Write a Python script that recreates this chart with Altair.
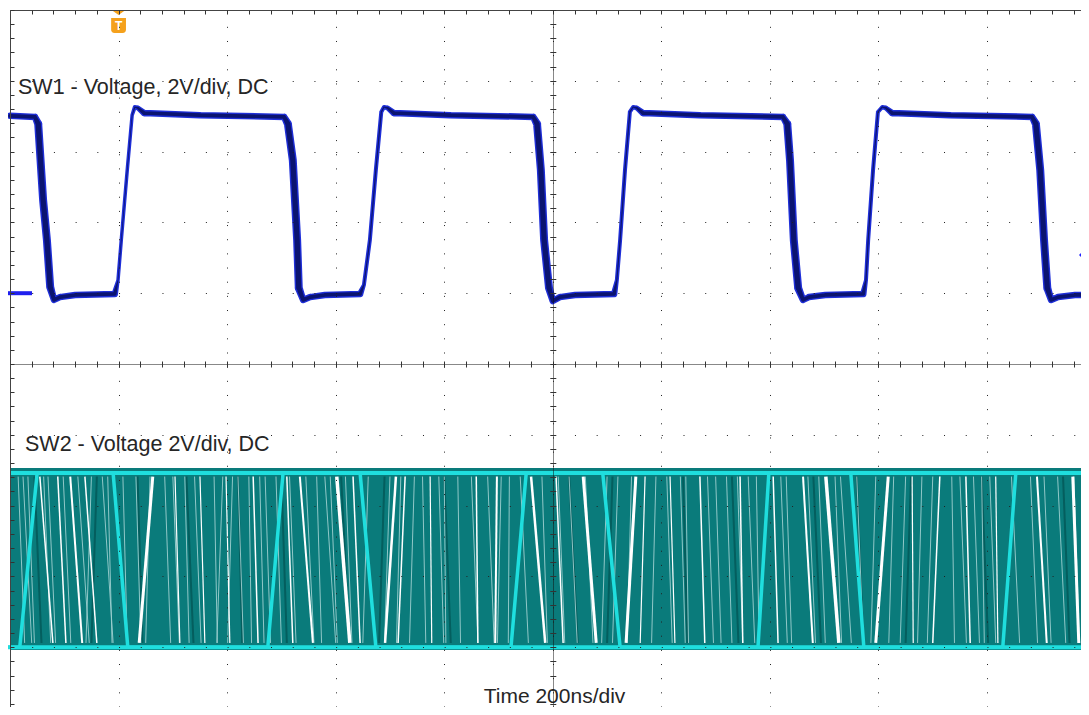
import altair as alt
import pandas as pd

# ---------------- screen geometry (scope: 200 ns/div, 2 V/div) ----------------
PX_PER_DIV_X = 108.56
PX_PER_DIV_Y = 70.8
W, H = 1071, 697
T_VIEW = W / PX_PER_DIV_X * 200      # ns visible
D_TOP = 5.0
D_BOT = D_TOP - H / PX_PER_DIV_Y     # visible vertical span, in divisions from centre
V_PER_DIV = 2.0
SW1_GND_DIV = 1.0                    # SW1 ground marker (div above centre)
SW2_GND_DIV = -4.0                   # SW2 ground marker

# ---------------- SW1 trace (time ns, volts, displayed trace width px) ----------------
sw1_t = [0, 46, 52, 61, 68, 74, 81, 92, 120,
         193, 199, 205, 216, 225, 230, 236, 247, 350,
         505, 512, 521, 529, 532, 540, 553, 580,
         645, 652, 663, 674, 684, 689, 696, 707, 811,
         964, 971, 978, 984, 993, 1000, 1013, 1041,
         1113, 1118, 1124, 1133, 1142, 1148, 1155, 1166, 1271,
         1424, 1432, 1437, 1444, 1452, 1461, 1472, 1502,
         1572, 1577, 1581, 1590, 1599, 1607, 1614, 1625, 1732,
         1883, 1890, 1898, 1905, 1911, 1918, 1931, 1962, 1988]
sw1_v = [5.01, 4.98, 4.78, 2.63, 1.50, 0.18, -0.19, -0.11, -0.05,
         -0.02, 0.37, 1.50, 3.48, 5.03, 5.26, 5.23, 5.09, 5.03,
         4.98, 4.78, 3.76, 1.50, 0.15, -0.19, -0.11, -0.05,
         -0.02, 0.23, 1.50, 3.48, 5.12, 5.26, 5.23, 5.09, 5.03,
         4.98, 4.78, 3.48, 1.50, 0.15, -0.22, -0.11, -0.05,
         -0.02, 0.37, 1.50, 3.48, 5.12, 5.26, 5.23, 5.09, 5.03,
         4.98, 4.78, 3.76, 1.50, 0.15, -0.19, -0.11, -0.05,
         -0.02, 0.37, 1.50, 3.48, 5.12, 5.26, 5.23, 5.09, 5.03,
         4.98, 4.78, 3.48, 1.50, 0.15, -0.19, -0.11, -0.05, -0.05]
sw1_w = [5.5, 5.5, 7, 7, 7, 7, 5.5, 5.5, 5.5,
         5.5, 2.5, 2.5, 2.5, 2.5, 3, 4, 5.5, 5.5,
         5.5, 7, 7, 7, 7, 5.5, 5.5, 5.5,
         5.5, 3, 3, 3, 3, 3, 4, 5.5, 5.5,
         5.5, 7, 7, 7, 7, 5.5, 5.5, 5.5,
         5.5, 3, 3, 3, 3, 3, 4, 5.5, 5.5,
         5.5, 7, 7, 7, 7, 5.5, 5.5, 5.5,
         5.5, 3, 3, 3, 3, 3, 4, 5.5, 5.5,
         5.5, 7, 7, 7, 7, 5.5, 5.5, 5.5, 5.5]

# ---------------- SW2: last acquisition (bright) ----------------
sw2_t = [-9, 18, 50, 190, 217, 475, 503, 645, 674, 923, 951, 1092,
         1124, 1378, 1398, 1549, 1573, 1829, 1853, 1988]
sw2_v = [0, 0, 4.92, 4.92, 0, 0, 4.92, 4.92, 0, 0, 4.92, 4.92,
         0, 0, 4.92, 4.92, 0, 0, 4.92, 4.92]
sw2_high_v, sw2_low_v = 4.92, 0.0
band_top_v, band_bot_v = 5.06, -0.08        # persistence band extent

# gaps in the persistence band (time at top, time at bottom, width px)
gap_top = [55, 88, 111, 138, 263, 304, 350, 398, 448, 510, 534, 602, 632,
           711, 728, 774, 859, 897, 960, 1006, 1056, 1153, 1170, 1216, 1271,
           1345, 1406, 1461, 1503, 1618, 1662, 1713, 1761, 1816, 1892, 1958]
gap_bot = [79, 103, 133, 160, 238, 313, 359, 405, 457, 521, 558, 626, 645,
           691, 715, 777, 862, 894, 986, 1019, 1080, 1135, 1161, 1225, 1280,
           1350, 1415, 1479, 1527, 1595, 1664, 1700, 1769, 1820, 1910, 1969]
gap_w = [1.5, 1.5, 2, 1.5, 3, 1.2, 1.2, 1.2, 1.5, 1.5, 2, 3.5, 1.5,
         2.5, 1.5, 1.2, 1.5, 2, 2.5, 1.5, 3, 3, 1.2, 1.2, 1.5,
         1.5, 1.5, 2, 3.5, 3, 1.2, 1.5, 1.5, 1.2, 2, 3]
faint_top = [24, 70, 125, 170, 285, 322, 376, 420, 470, 490, 580, 660, 745, 800, 825,
             920, 940, 1030, 1100, 1190, 1245, 1300, 1320, 1375, 1430, 1530, 1560,
             1650, 1680, 1735, 1790, 1845, 1930,
             15, 33, 62, 98, 150, 180, 208, 232, 258, 300, 340, 392, 410, 440, 460,
             515, 545, 565, 590, 618, 700, 720, 760, 790, 850, 880, 905, 980, 1010,
             1060, 1120, 1145, 1210, 1235, 1285, 1340, 1360, 1420, 1470, 1490, 1520,
             1595, 1628, 1700, 1750, 1775, 1805, 1880, 1905, 1960]
faint_bot = [40, 84, 146, 190, 296, 330, 382, 430, 480, 500, 600, 650, 736, 803, 830,
             918, 955, 1045, 1090, 1182, 1250, 1310, 1330, 1380, 1440, 1550, 1572,
             1640, 1672, 1740, 1795, 1860, 1945,
             27, 45, 75, 112, 140, 188, 216, 241, 250, 312, 352, 381, 401, 445, 468,
             527, 560, 574, 603, 630, 690, 712, 766, 799, 862, 892, 898, 990, 1022,
             1074, 1110, 1137, 1220, 1244, 1296, 1350, 1372, 1432, 1484, 1502, 1532,
             1586, 1619, 1690, 1762, 1786, 1816, 1893, 1918, 1970]
dark_top = [45, 160, 235, 325, 420, 500, 610, 690, 800, 1030, 1110, 1240, 1330,
            1480, 1560, 1660, 1790, 1940]
dark_bot = [58, 150, 244, 338, 428, 510, 625, 680, 812, 1046, 1100, 1248, 1342,
            1494, 1572, 1650, 1802, 1952]

trig_t = 200.0         # trigger position (ns)
trig_level_v = 1.08    # trigger level on SW1

SW1_LABEL = "SW1 - Voltage, 2V/div, DC"
SW2_LABEL = "SW2 - Voltage 2V/div, DC"
TIME_LABEL = "Time 200ns/div"

# grid values
major_x = [200 * i for i in range(1, 10)]
minor_x = [40 * i for i in range(0, 50)]
major_y = [-4, -3, -2, -1, 1, 2, 3, 4]
minor_y = [round(-4.8 + 0.2 * i, 2) for i in range(50)]

# ---------------- scales ----------------
xs = alt.Scale(domain=[0, T_VIEW], nice=False, zero=False)
ys = alt.Scale(domain=[D_BOT, D_TOP], nice=False, zero=False)


def X(f):
    return alt.X(f, type="quantitative", scale=xs, axis=None)


def Y(f):
    return alt.Y(f, type="quantitative", scale=ys, axis=None)


anchor = pd.DataFrame({"t": [T_VIEW / 2], "d": [0.0]})

# ---------------- SW2 persistence ----------------
band_df = pd.DataFrame({"t1": [0.0], "t2": [T_VIEW],
                        "v1": [band_top_v], "v2": [band_bot_v]})
band = alt.Chart(band_df).transform_calculate(
    d1=f"{SW2_GND_DIV} + datum.v1 / {V_PER_DIV}",
    d2=f"{SW2_GND_DIV} + datum.v2 / {V_PER_DIV}",
).mark_rect(color="#0a7b7b", clip=True).encode(x=X("t1"), x2="t2", y=Y("d1"), y2="d2")

streak_calc = dict(
    d1=f"{SW2_GND_DIV} + {sw2_high_v - 0.1} / {V_PER_DIV}",
    d2=f"{SW2_GND_DIV} + {sw2_low_v + 0.12} / {V_PER_DIV}",
)

dark_df = pd.DataFrame({"t1": dark_top, "t2": dark_bot})
dark = alt.Chart(dark_df).transform_calculate(**streak_calc).mark_rule(
    color="#045e5e", strokeWidth=2, clip=True).encode(x=X("t1"), x2="t2", y=Y("d1"), y2="d2")

faint_df = pd.DataFrame({"t1": faint_top, "t2": faint_bot})
faint = alt.Chart(faint_df).transform_calculate(**streak_calc).mark_rule(
    color="#9fd0d0", strokeWidth=0.9, clip=True).encode(x=X("t1"), x2="t2", y=Y("d1"), y2="d2")

gaps_df = pd.DataFrame({"t1": gap_top, "t2": gap_bot, "w": gap_w})
gaps = alt.Chart(gaps_df).transform_calculate(**streak_calc).mark_rule(
    color="white", clip=True).encode(
    x=X("t1"), x2="t2", y=Y("d1"), y2="d2",
    size=alt.Size("w:Q", scale=None, legend=None))

lvl_df = pd.DataFrame({"t": [0.0, T_VIEW, -9.0, T_VIEW],
                       "v": [sw2_high_v, sw2_high_v, sw2_low_v, sw2_low_v],
                       "k": ["hi", "hi", "lo", "lo"]})
levels = alt.Chart(lvl_df).transform_calculate(
    d=f"{SW2_GND_DIV} + datum.v / {V_PER_DIV}"
).mark_line(color="#1fdede", strokeWidth=4).encode(x=X("t"), y=Y("d"), detail="k:N")

sw2_df = pd.DataFrame({"t": sw2_t, "v": sw2_v})
sw2 = alt.Chart(sw2_df).transform_calculate(
    d=f"{SW2_GND_DIV} + datum.v / {V_PER_DIV}"
).mark_line(color="#1fdede", strokeWidth=3.5, strokeJoin="round").encode(
    x=X("t"), y=Y("d"), order="t:Q")

# ---------------- SW1 ----------------
sw1_df = pd.DataFrame({"t": sw1_t, "v": sw1_v, "w": sw1_w})
sw1_base = alt.Chart(sw1_df).transform_calculate(
    d=f"{SW1_GND_DIV} + datum.v / {V_PER_DIV}",
    wo="datum.w + 1.0",
    wi="max(datum.w - 1.8, 0.5)",
)
sw1_outer = sw1_base.mark_trail(color="#1f2fd8").encode(
    x=X("t"), y=Y("d"), size=alt.Size("wo:Q", scale=None, legend=None))
sw1_inner = sw1_base.mark_trail(color="#0b1470").encode(
    x=X("t"), y=Y("d"), size=alt.Size("wi:Q", scale=None, legend=None))

# ---------------- graticule through axes ----------------
def xaxis(axis):
    return alt.Chart(anchor).mark_point(opacity=0).encode(
        x=alt.X("t:Q", scale=xs, axis=axis), y=alt.Y("d:Q", scale=ys, axis=None))


def yaxis(axis):
    return alt.Chart(anchor).mark_point(opacity=0).encode(
        y=alt.Y("d:Q", scale=ys, axis=axis), x=alt.X("t:Q", scale=xs, axis=None))


common = dict(labels=False, title=None, zindex=1)
ax_major_x = xaxis(alt.Axis(orient="top", values=major_x, grid=True, gridDash=[1, 13.16],
                            gridColor="#222222", gridOpacity=1, gridWidth=1,
                            domain=True, domainColor="#444444", domainWidth=1,
                            ticks=False, **common))
ax_minor_x = xaxis(alt.Axis(orient="top", values=minor_x, offset=-4, ticks=True, tickSize=4,
                            tickColor="#333333", domain=False, grid=False, **common))
ax_centre_x = xaxis(alt.Axis(orient="top", values=[1000], grid=True, gridDash=[1, 1],
                             gridColor="#111111", gridOpacity=1, domain=False, ticks=False,
                             **common))
ax_ctick_x = xaxis(alt.Axis(orient="top", values=minor_x, offset=-357, ticks=True, tickSize=6,
                            tickColor="#333333", domain=False, grid=False, **common))

ax_major_y = yaxis(alt.Axis(orient="left", values=major_y, grid=True, gridDash=[1, 20.71],
                            gridColor="#222222", gridOpacity=1, gridWidth=1,
                            domain=True, domainColor="#444444", domainWidth=1,
                            ticks=False, **common))
ax_minor_y = yaxis(alt.Axis(orient="left", values=minor_y, offset=-4, ticks=True, tickSize=4,
                            tickColor="#333333", domain=False, grid=False, **common))
ax_centre_y = yaxis(alt.Axis(orient="left", values=[0], grid=True, gridDash=[1, 1],
                             gridColor="#111111", gridOpacity=1, domain=False, ticks=False,
                             **common))
ax_ctick_y = yaxis(alt.Axis(orient="left", values=minor_y, offset=-545.8, ticks=True, tickSize=6,
                            tickColor="#333333", domain=False, grid=False, **common))

# ---------------- annotations ----------------
txt_style = dict(font="Liberation Sans", color="#262626", baseline="alphabetic")
t_sw1 = alt.Chart(anchor).mark_text(align="left", fontSize=21.5, **txt_style).encode(
    x=alt.value(8), y=alt.value(84), text=alt.value(SW1_LABEL))
t_sw2 = alt.Chart(anchor).mark_text(align="left", fontSize=21.5, **txt_style).encode(
    x=alt.value(15), y=alt.value(441), text=alt.value(SW2_LABEL))
t_time = alt.Chart(anchor).mark_text(align="center", fontSize=21, **txt_style).encode(
    x=alt.value(544.5), y=alt.value(693), text=alt.value(TIME_LABEL))

trig_df = pd.DataFrame({"t": [trig_t]})
trig_tri = alt.Chart(trig_df).mark_point(
    shape="M-1,-0.35L1,-0.35L0,0.35Z", filled=True, size=196, color="#f5a11c", opacity=1
).encode(x=X("t"), y=alt.value(2.5))
trig_box = alt.Chart(trig_df).mark_point(
    shape="M-1,-1L1,-1L1,0.55Q1,1 0.55,1L-0.55,1Q-1,1 -1,0.55Z", filled=True, size=220,
    color="#f5a11c", opacity=1
).encode(x=X("t"), y=alt.value(15.5))
trig_T = alt.Chart(trig_df).mark_text(
    text="T", font="Liberation Sans", fontWeight="bold", fontSize=12, color="white",
    baseline="middle", align="center"
).encode(x=X("t"), y=alt.value(15.5))

lvl_mark_df = pd.DataFrame({"v": [trig_level_v]})
lvl_mark = alt.Chart(lvl_mark_df).transform_calculate(
    d=f"{SW1_GND_DIV} + datum.v / {V_PER_DIV}"
).mark_point(shape="diamond", filled=True, size=260, color="#2222ff", opacity=1).encode(
    x=alt.value(W + 6), y=Y("d"))

gnd_df = pd.DataFrame({"d": [SW1_GND_DIV]})
gnd1 = alt.Chart(gnd_df).mark_rule(color="#1f1fee", strokeWidth=4, strokeCap="butt").encode(
    x=alt.value(-6), x2=alt.value(22), y=Y("d"))

chart = alt.layer(
    band, dark, faint, gaps, levels, sw2,
    sw1_outer, sw1_inner, gnd1,
    ax_major_x, ax_minor_x, ax_centre_x, ax_ctick_x,
    ax_major_y, ax_minor_y, ax_centre_y, ax_ctick_y,
    t_sw1, t_sw2, t_time, trig_tri, trig_box, trig_T, lvl_mark,
).resolve_axis(x="independent", y="independent").properties(
    width=W, height=H, autosize="none",
    padding={"left": 2, "top": 2, "right": 0, "bottom": 0},
    background="white",
).configure_view(strokeWidth=0)

chart.save("out.html", embed_options={"renderer": "svg", "actions": False})
